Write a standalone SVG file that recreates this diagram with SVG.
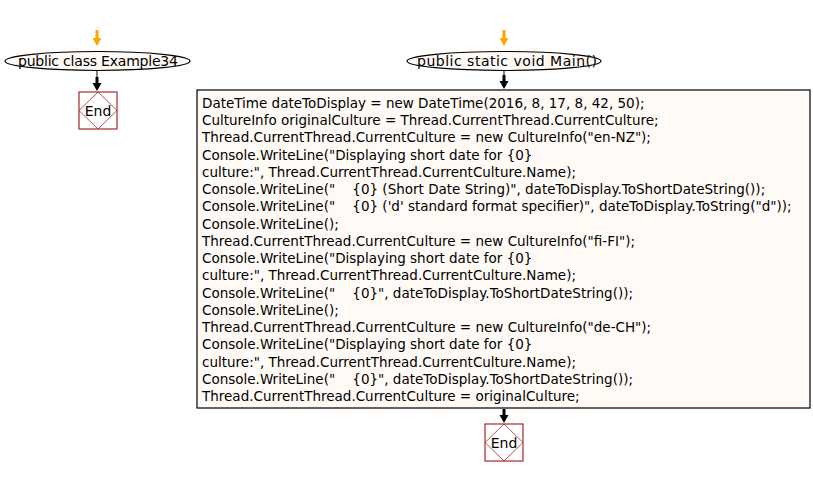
<svg xmlns="http://www.w3.org/2000/svg" width="813" height="477" viewBox="0 0 813 477">
<defs>
<style>
.term{fill:#FFFAF5;stroke:#000;stroke-width:1.2}
.proc{fill:#FFFAF5;stroke:#000;stroke-width:1.2}
.endbox{fill:#fff;stroke:#A52A2A;stroke-width:1.2}
.enddia{fill:none;stroke:#A52A2A;stroke-width:0.8}
.t{font-family:"DejaVu Sans",Verdana,sans-serif;font-size:13.5px;fill:#000}
.tc{font-family:"DejaVu Sans",Verdana,sans-serif;font-size:14px;fill:#000;text-anchor:middle}
.start{fill:#FFA500}
.flow{fill:#000}
</style>
</defs>
<g id="connectors">
  <path class="start" d="M95.5,30 h3 v8 h3 l-4.5,8 l-4.5,-8 h3 z"/>
  <line x1="97" y1="70" x2="97" y2="78" stroke="#000" stroke-width="1"/>
  <path class="flow" d="M95.5,77 h3 v6 h3 l-4.5,8 l-4.5,-8 h3 z"/>
  <path class="start" d="M502.5,30 h3 v8 h3 l-4.5,8 l-4.5,-8 h3 z"/>
  <line x1="504" y1="71" x2="504" y2="76" stroke="#000" stroke-width="1"/>
  <path class="flow" d="M502.5,75 h3 v6 h3 l-4.5,8 l-4.5,-8 h3 z"/>
  <line x1="504" y1="409" x2="504" y2="412" stroke="#000" stroke-width="1"/>
  <path class="flow" d="M502.5,409 h3 v6 h3 l-4.5,8 l-4.5,-8 h3 z"/>
</g>
<g id="class-start">
  <ellipse class="term" cx="97.5" cy="61" rx="92.5" ry="9.5"/>
  <text class="tc" x="98" y="66" textLength="160">public class Example34</text>
</g>
<g id="class-end">
  <rect class="endbox" x="79" y="92" width="38" height="37"/>
  <polygon class="enddia" points="98,92 117,110.5 98,129 79,110.5"/>
  <text class="tc" x="98" y="115.5">End</text>
</g>
<g id="main-start">
  <ellipse class="term" cx="504" cy="61" rx="97" ry="9.5"/>
  <text class="tc" x="507" y="66" textLength="180">public static void Main()</text>
</g>
<g id="main-body">
  <rect class="proc" x="197" y="90" width="613" height="318"/>
  <text class="t" xml:space="preserve">
<tspan x="202" y="108">DateTime dateToDisplay = new DateTime(2016, 8, 17, 8, 42, 50);</tspan>
<tspan x="202" y="125.24">CultureInfo originalCulture = Thread.CurrentThread.CurrentCulture;</tspan>
<tspan x="202" y="142.48">Thread.CurrentThread.CurrentCulture = new CultureInfo("en-NZ");</tspan>
<tspan x="202" y="159.72">Console.WriteLine("Displaying short date for {0}</tspan>
<tspan x="202" y="176.96">culture:", Thread.CurrentThread.CurrentCulture.Name);</tspan>
<tspan x="202" y="194.2">Console.WriteLine("    {0} (Short Date String)", dateToDisplay.ToShortDateString());</tspan>
<tspan x="202" y="211.44">Console.WriteLine("    {0} ('d' standard format specifier)", dateToDisplay.ToString("d"));</tspan>
<tspan x="202" y="228.68">Console.WriteLine();</tspan>
<tspan x="202" y="245.92">Thread.CurrentThread.CurrentCulture = new CultureInfo("fi-FI");</tspan>
<tspan x="202" y="263.16">Console.WriteLine("Displaying short date for {0}</tspan>
<tspan x="202" y="280.4">culture:", Thread.CurrentThread.CurrentCulture.Name);</tspan>
<tspan x="202" y="297.64">Console.WriteLine("    {0}", dateToDisplay.ToShortDateString());</tspan>
<tspan x="202" y="314.88">Console.WriteLine();</tspan>
<tspan x="202" y="332.12">Thread.CurrentThread.CurrentCulture = new CultureInfo("de-CH");</tspan>
<tspan x="202" y="349.36">Console.WriteLine("Displaying short date for {0}</tspan>
<tspan x="202" y="366.6">culture:", Thread.CurrentThread.CurrentCulture.Name);</tspan>
<tspan x="202" y="383.84">Console.WriteLine("    {0}", dateToDisplay.ToShortDateString());</tspan>
<tspan x="202" y="401.08">Thread.CurrentThread.CurrentCulture = originalCulture;</tspan>
</text>
</g>
<g id="main-end">
  <rect class="endbox" x="485" y="424" width="38" height="37"/>
  <polygon class="enddia" points="504,424 523,442.5 504,461 485,442.5"/>
  <text class="tc" x="504" y="447.5">End</text>
</g>
</svg>
